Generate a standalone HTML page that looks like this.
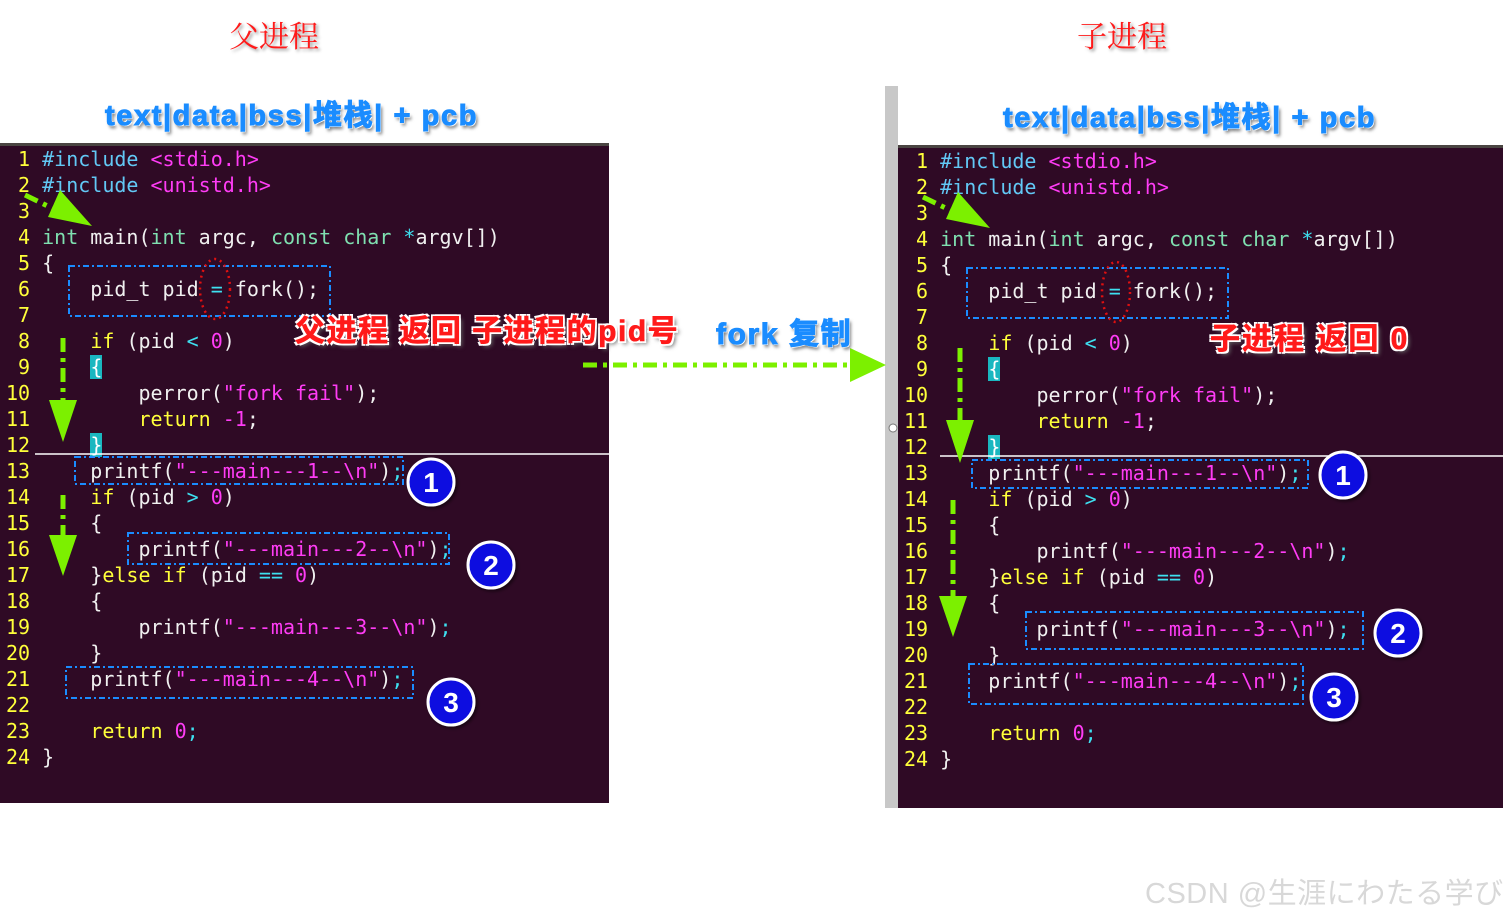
<!DOCTYPE html>
<html><head><meta charset="utf-8"><style>
body{margin:0;width:1503px;height:916px;background:#fff;position:relative;overflow:hidden;font-family:"Liberation Sans","Noto Sans CJK SC",sans-serif}
.panel{position:absolute;background:#2f0a25;border-top:3px solid #4a4542}
pre{position:absolute;margin:0;font-family:"DejaVu Sans Mono","Liberation Mono",monospace;font-size:20px;line-height:26px;color:#f0f0f0;white-space:pre}
.n{color:#ffff3a}.c{color:#62c8f5}.m{color:#ff3cf5}.g{color:#7fe0b0}.y{color:#ffff3a}.o{color:#3ee0f0}
.cur{background:#1ab7c0;color:#fff}
.ab{position:absolute;white-space:nowrap}
.h1{font-family:"Noto Serif CJK SC",serif;font-size:30px;color:#ff1a1a;text-shadow:2px 2px 3px #999}
.h2{font-weight:bold;font-size:29px;letter-spacing:1.6px;color:#1a8cff;-webkit-text-stroke:1px #1a8cff;text-shadow:-1px -1px 0 #fff,1px 1px 0 #fff,2px 3px 3px #777}
.red{font-weight:bold;font-size:30px;color:#ff1a1a;-webkit-text-stroke:0.6px #ff1a1a;text-shadow:-2px -2px 0 #fff,2px -2px 0 #fff,-2px 2px 0 #fff,2px 2px 0 #fff,3px 3px 4px #666}
</style></head><body>
<div class="ab h1" style="left:229px;top:12px">父进程</div>
<div class="ab h1" style="left:1077px;top:12px">子进程</div>
<div class="ab h2" style="left:105px;top:92px">text|data|bss|堆栈| + pcb</div>
<div class="ab h2" style="left:1003px;top:94px">text|data|bss|堆栈| + pcb</div>

<div style="position:absolute;left:885px;top:86px;width:13px;height:722px;background:#c8c8c8"></div>
<div class="panel" style="left:0;top:143px;width:609px;height:657px"></div>
<div class="panel" style="left:898px;top:145px;width:605px;height:660px"></div>

<pre style="left:6px;top:146px"><span class="n"> 1</span> <span class="c">#include</span> <span class="m">&lt;stdio.h&gt;</span>
<span class="n"> 2</span> <span class="c">#include</span> <span class="m">&lt;unistd.h&gt;</span>
<span class="n"> 3</span>
<span class="n"> 4</span> <span class="g">int</span> main(<span class="g">int</span> argc, <span class="g">const</span> <span class="g">char</span> <span class="o">*</span>argv[])
<span class="n"> 5</span> {
<span class="n"> 6</span>     pid_t pid <span class="o">=</span> fork();
<span class="n"> 7</span>
<span class="n"> 8</span>     <span class="y">if</span> (pid <span class="o">&lt;</span> <span class="m">0</span>)
<span class="n"> 9</span>     <span class="cur">{</span>
<span class="n">10</span>         perror(<span class="m">"fork fail"</span>);
<span class="n">11</span>         <span class="y">return</span> <span class="m">-1</span>;
<span class="n">12</span>     <span class="cur">}</span>
<span class="n">13</span>     printf(<span class="m">"---main---1--\n"</span>)<span class="o">;</span>
<span class="n">14</span>     <span class="y">if</span> (pid <span class="o">&gt;</span> <span class="m">0</span>)
<span class="n">15</span>     {
<span class="n">16</span>         printf(<span class="m">"---main---2--\n"</span>)<span class="o">;</span>
<span class="n">17</span>     }<span class="y">else</span> <span class="y">if</span> (pid <span class="o">==</span> <span class="m">0</span>)
<span class="n">18</span>     {
<span class="n">19</span>         printf(<span class="m">"---main---3--\n"</span>)<span class="o">;</span>
<span class="n">20</span>     }
<span class="n">21</span>     printf(<span class="m">"---main---4--\n"</span>)<span class="o">;</span>
<span class="n">22</span>
<span class="n">23</span>     <span class="y">return</span> <span class="m">0</span><span class="o">;</span>
<span class="n">24</span> }</pre>

<pre style="left:904px;top:148px"><span class="n"> 1</span> <span class="c">#include</span> <span class="m">&lt;stdio.h&gt;</span>
<span class="n"> 2</span> <span class="c">#include</span> <span class="m">&lt;unistd.h&gt;</span>
<span class="n"> 3</span>
<span class="n"> 4</span> <span class="g">int</span> main(<span class="g">int</span> argc, <span class="g">const</span> <span class="g">char</span> <span class="o">*</span>argv[])
<span class="n"> 5</span> {
<span class="n"> 6</span>     pid_t pid <span class="o">=</span> fork();
<span class="n"> 7</span>
<span class="n"> 8</span>     <span class="y">if</span> (pid <span class="o">&lt;</span> <span class="m">0</span>)
<span class="n"> 9</span>     <span class="cur">{</span>
<span class="n">10</span>         perror(<span class="m">"fork fail"</span>);
<span class="n">11</span>         <span class="y">return</span> <span class="m">-1</span>;
<span class="n">12</span>     <span class="cur">}</span>
<span class="n">13</span>     printf(<span class="m">"---main---1--\n"</span>)<span class="o">;</span>
<span class="n">14</span>     <span class="y">if</span> (pid <span class="o">&gt;</span> <span class="m">0</span>)
<span class="n">15</span>     {
<span class="n">16</span>         printf(<span class="m">"---main---2--\n"</span>)<span class="o">;</span>
<span class="n">17</span>     }<span class="y">else</span> <span class="y">if</span> (pid <span class="o">==</span> <span class="m">0</span>)
<span class="n">18</span>     {
<span class="n">19</span>         printf(<span class="m">"---main---3--\n"</span>)<span class="o">;</span>
<span class="n">20</span>     }
<span class="n">21</span>     printf(<span class="m">"---main---4--\n"</span>)<span class="o">;</span>
<span class="n">22</span>
<span class="n">23</span>     <span class="y">return</span> <span class="m">0</span><span class="o">;</span>
<span class="n">24</span> }</pre>

<svg width="1503" height="916" style="position:absolute;left:0;top:0">
<defs><filter id="sh"><feDropShadow dx="2" dy="2" stdDeviation="1.5" flood-color="#000" flood-opacity="0.5"/></filter></defs>
<line x1="35" y1="454" x2="609" y2="454" stroke="#fff" stroke-width="1.5"/>
<line x1="940" y1="456" x2="1503" y2="456" stroke="#fff" stroke-width="1.5"/>
<g fill="none" stroke="#1a8cff" stroke-width="2" stroke-dasharray="6,3,2,3">
<rect x="69" y="266" width="261" height="50"/>
<rect x="75" y="457" width="328" height="27"/>
<rect x="128" y="533" width="321" height="31"/>
<rect x="66" y="667" width="347" height="31"/>
<rect x="967" y="268" width="261" height="50"/>
<rect x="972" y="460" width="336" height="28"/>
<rect x="1026" y="612" width="337" height="37"/>
<rect x="969" y="664" width="334" height="40"/>
</g>
<g fill="none" stroke="#e01010" stroke-width="2.5" stroke-dasharray="2,4">
<ellipse cx="215" cy="289" rx="15" ry="30"/>
<ellipse cx="1116" cy="292" rx="14" ry="30"/>
</g>
<g stroke="#7cf000" stroke-width="5" stroke-dasharray="14,6,4,6" fill="none">
<line x1="25" y1="195" x2="62" y2="213"/>
<line x1="63" y1="338" x2="63" y2="405"/>
<line x1="63" y1="495" x2="63" y2="540"/>
<line x1="923" y1="197" x2="960" y2="215"/>
<line x1="960" y1="348" x2="960" y2="420"/>
<line x1="953" y1="500" x2="953" y2="600"/>
<line x1="583" y1="365" x2="855" y2="365"/>
</g>
<g fill="#7cf000">
<polygon points="92,226 48,217 60,190"/>
<polygon points="49,400 77,400 63,442"/>
<polygon points="49,535 77,535 63,576"/>
<polygon points="990,228 946,219 958,192"/>
<polygon points="946,420 974,420 960,463"/>
<polygon points="939,596 967,596 953,637"/>
<polygon points="850,348 886,365 850,382"/>
</g>
<g font-family="Liberation Sans,sans-serif" font-weight="bold" font-size="28" fill="#fff" text-anchor="middle">
<g filter="url(#sh)">
<circle cx="431" cy="482" r="23" fill="#0a0ae0" stroke="#fff" stroke-width="3"/>
<circle cx="491" cy="565" r="23" fill="#0a0ae0" stroke="#fff" stroke-width="3"/>
<circle cx="451" cy="702" r="23" fill="#0a0ae0" stroke="#fff" stroke-width="3"/>
<circle cx="1343" cy="475" r="23" fill="#0a0ae0" stroke="#fff" stroke-width="3"/>
<circle cx="1398" cy="633" r="23" fill="#0a0ae0" stroke="#fff" stroke-width="3"/>
<circle cx="1334" cy="697" r="23" fill="#0a0ae0" stroke="#fff" stroke-width="3"/>
</g>
<text x="431" y="492">1</text><text x="491" y="575">2</text><text x="451" y="712">3</text>
<text x="1343" y="485">1</text><text x="1398" y="643">2</text><text x="1334" y="707">3</text>
</g>
<circle cx="893" cy="428" r="4" fill="#fff" stroke="#777"/>
</svg>

<div class="ab red" style="left:295px;top:306px;letter-spacing:1.5px">父进程 返回 子进程的pid号</div>
<div class="ab red" style="left:1210px;top:314px;letter-spacing:2px">子进程 返回 0</div>
<div class="ab h2" style="left:716px;top:309px;font-size:30px">fork 复制</div>
<div class="ab" style="left:1145px;top:870px;font-size:29px;letter-spacing:0.5px;color:#d8d8d8;font-family:'Liberation Sans','Noto Sans CJK JP',sans-serif">CSDN @生涯にわたる学び</div>
</body></html>
